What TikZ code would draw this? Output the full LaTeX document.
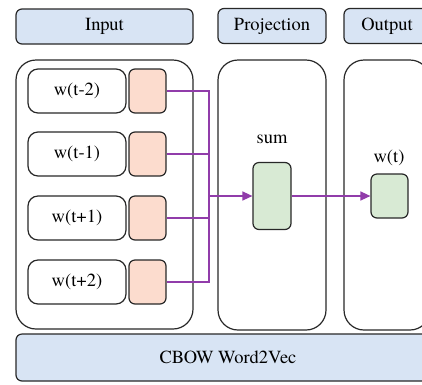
\documentclass[tikz,border=0pt]{standalone}
\usepackage{fontspec}
\setmainfont{TeX Gyre Termes}
\usetikzlibrary{arrows.meta,positioning}
\definecolor{hdrblue}{RGB}{216,228,244}
\definecolor{peach}{RGB}{252,220,206}
\definecolor{mint}{RGB}{216,234,212}
\definecolor{edge}{RGB}{40,40,40}
\definecolor{link}{RGB}{145,60,170}
\tikzset{
  base/.style={draw=edge, line width=1.2pt, inner sep=0pt, font=\rmfamily\fontsize{18.5}{20}\selectfont},
  header/.style={base, fill=hdrblue, rounded corners=6pt},
  panel/.style={base, fill=white, rounded corners=20pt},
  wordbox/.style={base, fill=white, rounded corners=10pt, minimum width=98pt, minimum height=44pt},
  vecbox/.style={base, fill=peach, rounded corners=6pt, minimum width=37pt, minimum height=44pt},
  hidbox/.style={base, fill=mint, rounded corners=6pt},
  plain/.style={inner sep=0pt, font=\rmfamily\fontsize{18.5}{20}\selectfont},
  wire/.style={draw=link, line width=1.4pt},
  arrowwire/.style={wire, -{Triangle[length=10pt,width=9pt]}}
}
\begin{document}
\begin{tikzpicture}[x=1pt,y=-1pt]
\useasboundingbox (0,0) rectangle (422,384);
\clip (0,0) rectangle (422,384);
\fill[white] (0,0) rectangle (422,384);

% column headers
\node[header, minimum width=177pt, minimum height=35pt] (hin) at (104.5,26.5) {Input};
\node[header, minimum width=108pt, minimum height=35pt] (hproj) at (272,26) {Projection};
\node[header, minimum width=86pt, minimum height=35pt] (hout) at (387,26) {Output};

% column panels
\node[panel, minimum width=177pt, minimum height=269pt] (pin) at (104.5,194.5) {};
\node[panel, minimum width=108pt, minimum height=270pt] (pproj) at (272,195) {};
\node[panel, minimum width=86pt, minimum height=270pt] (pout) at (387,195) {};

% bottom banner
\node[header, minimum width=424pt, minimum height=47pt] (banner) at (228,357.5) {CBOW Word2Vec};

% context words and their vectors
\node[wordbox] (w1) at (77,91) {w(t-2)};
\node[wordbox] (w2) at (77,154) {w(t-1)};
\node[wordbox] (w3) at (77,218) {w(t+1)};
\node[wordbox] (w4) at (77,282) {w(t+2)};
\node[vecbox] (v1) at (147.5,91) {};
\node[vecbox] (v2) at (147.5,154) {};
\node[vecbox] (v3) at (147.5,218) {};
\node[vecbox] (v4) at (147.5,282) {};

% projection and output units
\node[hidbox, minimum width=38pt, minimum height=67pt] (sum) at (272,196) {};
\node[plain] (sumlbl) at (272,139) {sum};
\node[hidbox, minimum width=37pt, minimum height=44pt] (out) at (389.5,196) {};
\node[plain] (outlbl) at (389,158) {w(t)};

% merge bus
\coordinate (busT) at (209,91);
\coordinate (busB) at (209,282);
\coordinate (busM) at (209,196);
\draw[wire] (v1.east) -- (busT) -- (busB) -- (v4.east);
\draw[wire] (v2.east) -- (v2.east -| busT);
\draw[wire] (v3.east) -- (v3.east -| busT);
\draw[arrowwire] (busM) -- (sum.west |- busM);
\draw[arrowwire] (sum.east |- out.west) -- (out.west);
\end{tikzpicture}
\end{document}
